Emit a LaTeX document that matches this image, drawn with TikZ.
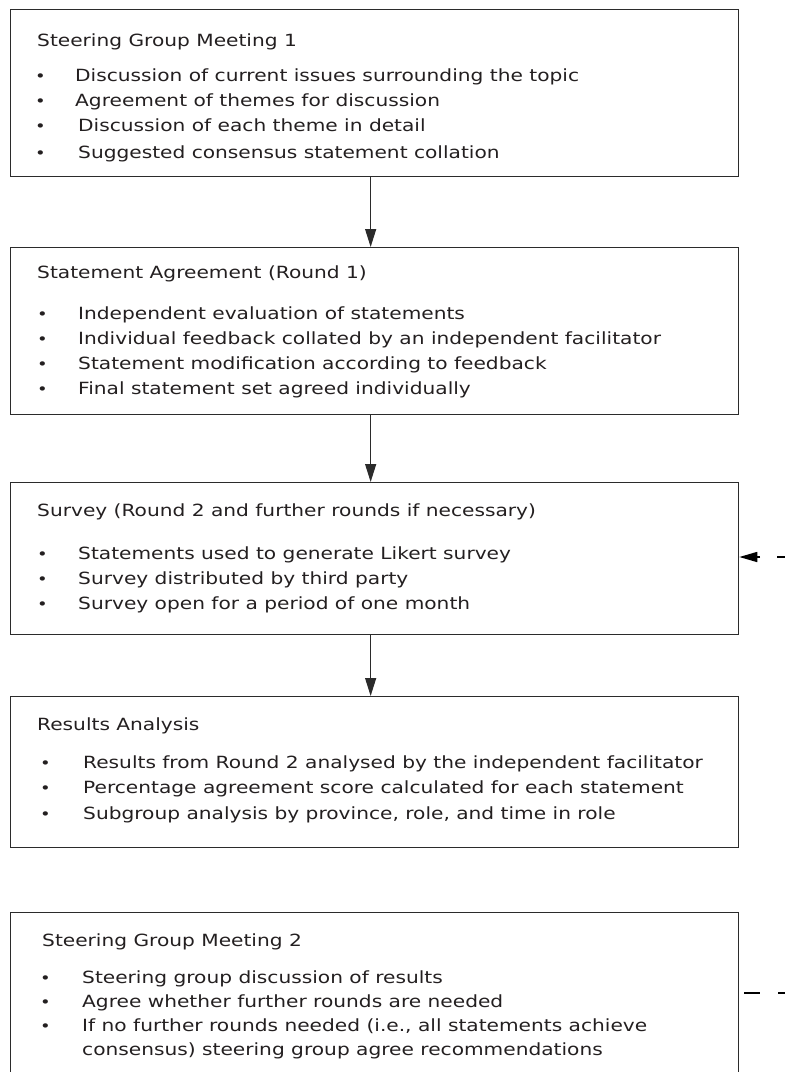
\documentclass[tikz,border=0pt]{standalone}
\usepackage{fontspec}
\setmainfont{DejaVu Sans}[FakeStretch=1.2]
\usetikzlibrary{arrows.meta}
\definecolor{boxc}{HTML}{2B2B2B}
\definecolor{textc}{HTML}{231F20}
\begin{document}
\begin{tikzpicture}[x=1pt,y=-1pt,
  box/.style={draw=boxc, line width=1.3pt, minimum width=728.5pt, anchor=north west, inner sep=0pt},
  txt/.style={anchor=base west, inner sep=0pt, text=textc, font=\fontsize{16.8}{20}\selectfont},
  bul/.style={anchor=base west, inner sep=0pt, text=textc, font=\fontsize{15}{18}\selectfont},
  arr/.style={draw=boxc, line width=1.3pt, -{Triangle[length=18pt,width=11pt]}},
  fb/.style={draw=black, line width=1.6pt}
]
\useasboundingbox (0,0) rectangle (785,1072);
\begin{scope}
\clip (0,0) rectangle (785,1072);
% boxes
\node[box, minimum height=167pt] (b1) at (9.5,9) {};
\node[box, minimum height=167pt] (b2) at (9.5,247) {};
\node[box, minimum height=152pt] (b3) at (9.5,482) {};
\node[box, minimum height=151pt] (b4) at (9.5,696) {};
\node[box, minimum height=175pt] (b5) at (9.5,912) {};

% box 1
\node[txt] (t1) at (37,46) {Steering Group Meeting 1};
\node[bul] (d11) at (35,81) {•};
\node[bul] (d12) at (35,106) {•};
\node[bul] (d13) at (35,131) {•};
\node[bul] (d14) at (35,158) {•};
\node[txt] (l11) at (75,81) {Discussion of current issues surrounding the topic};
\node[txt] (l12) at (75,106) {Agreement of themes for discussion};
\node[txt] (l13) at (78,131) {Discussion of each theme in detail};
\node[txt] (l14) at (78,158) {Suggested consensus statement collation};

% box 2
\node[txt] (t2) at (37,278) {Statement Agreement (Round 1)};
\node[bul] (d21) at (37,319) {•};
\node[bul] (d22) at (37,344) {•};
\node[bul] (d23) at (37,369) {•};
\node[bul] (d24) at (37,394) {•};
\node[txt] (l21) at (78,319) {Independent evaluation of statements};
\node[txt] (l22) at (78,344) {Individual feedback collated by an independent facilitator};
\node[txt] (l23) at (78,369) {Statement modification according to feedback};
\node[txt] (l24) at (78,394) {Final statement set agreed individually};

% box 3
\node[txt] (t3) at (37,516) {Survey (Round 2 and further rounds if necessary)};
\node[bul] (d31) at (37,559) {•};
\node[bul] (d32) at (37,584) {•};
\node[bul] (d33) at (37,609) {•};
\node[txt] (l31) at (78,559) {Statements used to generate Likert survey};
\node[txt] (l32) at (78,584) {Survey distributed by third party};
\node[txt] (l33) at (78,609) {Survey open for a period of one month};

% box 4
\node[txt] (t4) at (37,730) {Results Analysis};
\node[bul] (d41) at (40,768) {•};
\node[bul] (d42) at (40,793) {•};
\node[bul] (d43) at (40,819) {•};
\node[txt] (l41) at (83,768) {Results from Round 2 analysed by the independent facilitator};
\node[txt] (l42) at (83,793) {Percentage agreement score calculated for each statement};
\node[txt] (l43) at (83,819) {Subgroup analysis by province, role, and time in role};

% box 5
\node[txt] (t5) at (42,946) {Steering Group Meeting 2};
\node[bul] (d51) at (40,983) {•};
\node[bul] (d52) at (40,1007) {•};
\node[bul] (d53) at (40,1031) {•};
\node[txt] (l51) at (82,983) {Steering group discussion of results};
\node[txt] (l52) at (82,1007) {Agree whether further rounds are needed};
\node[txt] (l53) at (82,1031) {If no further rounds needed (i.e., all statements achieve};
\node[txt] (l54) at (82,1055) {consensus) steering group agree recommendations};

% arrows
\draw[arr] ([xshift=-3.75pt]b1.south) -- ([xshift=-3.75pt]b2.north);
\draw[arr] ([xshift=-3.75pt]b2.south) -- ([xshift=-3.75pt]b3.north);
\draw[arr] ([xshift=-3.75pt]b3.south) -- ([xshift=-3.75pt]b4.north);

% feedback loop
\coordinate (fb1) at (800,993);
\coordinate (fb2) at (800,557);
\draw[fb, dash pattern=on 16pt off 18pt, dash phase=29pt] (b5.east |- fb1) -- (fb1) -- (fb2);
\draw[fb, dash pattern=on 16pt off 17pt, dash phase=26pt, -{Triangle[length=18pt,width=10pt]}] (fb2) -- (b3.east |- fb2);
\end{scope}
\end{tikzpicture}
\end{document}
